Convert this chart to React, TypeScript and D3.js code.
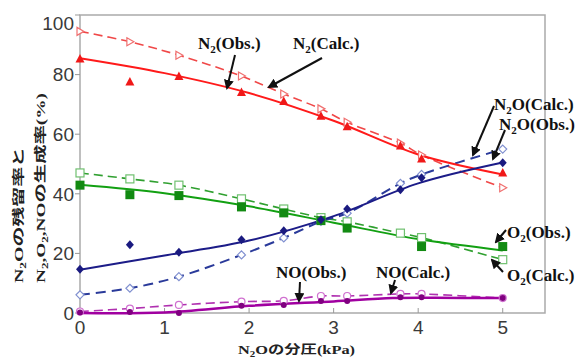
import React from "react";
import * as d3 from "d3";

const W = 582;
const H = 360;

// Sample N2O partial pressures (kPa)
const xPts = [0, 0.59, 1.17, 1.91, 2.41, 2.85, 3.16, 3.79, 4.04, 5.0];

// Observed / calculated values (%)
const n2Obs = [85.2, 77.5, 79.4, 74, 71, 66, 62.5, 56, 51.7, 47];
const n2Calc = [94.5, 91, 86.5, 79.5, 73.5, 68.5, 64, 57, 53, 42];
const o2Obs: (number | null)[] = [42.9, 39.7, 39.4, 35.6, 33.6, 31, 28.5, null, 22.3, 22.3];
const o2Calc = [47, 45, 42.9, 38.3, 34.9, 32, 30.6, 26.8, 25.3, 17.9];
const n2oObs = [14.7, 22.9, 20.4, 24.6, 27.6, 31.3, 34.9, 41.4, 45.4, 50.4];
const n2oCalc = [6.1, 8.3, 12.2, 19.5, 25.2, 30.7, 33.5, 43.5, 46.5, 55];
const noObs = [0.2, 0.3, 0, 2.4, 2.7, 4, 4, 5.3, 5.3, 5];
const noCalc = [0.5, 1.5, 2.7, 3.8, 4.1, 5.7, 5.7, 6.4, 6.4, 5];

// Fitted (solid) curves for observations
const fitX = [0, 1, 2, 3, 4, 5];
const n2Fit = [85.5, 80.5, 73.8, 64.5, 53.2, 46.5];
const o2Fit = [43, 40.2, 35.8, 30.3, 24.8, 21];
const n2oFit = [14.5, 19.3, 24.3, 32.5, 43.5, 50.5];
const noFitX = [0, 1, 2, 3, 3.7, 4.2, 5];
const noFit = [0, 0.2, 2.4, 3.9, 5.0, 5.1, 5];

const xTicks = [0, 1, 2, 3, 4, 5];
const yTicks = [0, 20, 40, 60, 80, 100];

const x = d3.scaleLinear().domain([0, 5.5]).range([80, 545]);
const y = d3.scaleLinear().domain([0, 100]).range([313, 15]);

const solid = (xs: number[], ys: number[]) =>
  d3
    .line<number>()
    .x((_, i) => x(xs[i]))
    .y((v) => y(v))
    .curve(d3.curveCatmullRom.alpha(0.5))(ys) || "";

const dashed = (ys: (number | null)[]) => {
  const pts = xPts.map((xv, i) => [xv, ys[i]] as [number, number | null]).filter((p) => p[1] !== null) as [number, number][];
  return (
    d3
      .line<[number, number]>()
      .x((p) => x(p[0]))
      .y((p) => y(p[1]))
      .curve(d3.curveCatmullRom.alpha(0.5))(pts) || ""
  );
};

const serif = "'Liberation Serif', 'DejaVu Serif', serif";
const sans = "'Liberation Sans', Arial, sans-serif";
const cjk = "'Liberation Serif', 'Noto Sans CJK JP', serif";

function Sub({ t }: { t: string }) {
  return (
    <tspan fontSize="11" dy="4">
      {t}
    </tspan>
  );
}

function Label({ x0, y0, a, s, b }: { x0: number; y0: number; a: string; s: string; b: string }) {
  return (
    <text x={x0} y={y0} fontFamily={serif} fontWeight="bold" fontSize="17" fill="#111">
      {a}
      <Sub t={s} />
      <tspan dy="-4">{b}</tspan>
    </text>
  );
}

function Arrow({ x1, y1, x2, y2 }: { x1: number; y1: number; x2: number; y2: number }) {
  return <line x1={x1} y1={y1} x2={x2} y2={y2} stroke="#111" strokeWidth={2} markerEnd="url(#ah)" />;
}

export default function App() {
  const idx = xPts.map((_, i) => i);
  return (
    <svg width={W} height={H} style={{ position: "absolute", left: 0, top: 0, background: "#fff" }}>
      <defs>
        <marker id="ah" viewBox="0 0 10 10" refX="8" refY="5" markerWidth="5" markerHeight="5" orient="auto">
          <path d="M0,0 L10,5 L0,10 z" fill="#111" />
        </marker>
      </defs>
      <rect x={0} y={0} width={W} height={H} fill="#fff" />
      {/* frame */}
      <rect x={x(0)} y={y(100)} width={x(5.5) - x(0)} height={y(0) - y(100)} fill="none" stroke="#aaa" strokeWidth={1.5} />
      {/* y ticks */}
      {yTicks.map((t) => (
        <g key={"y" + t}>
          <line x1={x(0) - 5} x2={x(0)} y1={y(t)} y2={y(t)} stroke="#999" strokeWidth={1} />
          <text x={74} y={Math.max(y(t), 23)} dy="0.36em" textAnchor="end" fontFamily={sans} fontSize="19" fill="#3a3a3a">
            {t}
          </text>
        </g>
      ))}
      {/* x ticks */}
      {xTicks.map((t) => (
        <g key={"x" + t}>
          <line x1={x(t)} x2={x(t)} y1={y(0)} y2={y(0) - 5} stroke="#999" strokeWidth={1} />
          <text x={x(t)} y={334} textAnchor="middle" fontFamily={sans} fontSize="19" fill="#3a3a3a">
            {t}
          </text>
        </g>
      ))}
      {/* axis titles */}
      <text x={238} y={354} fontFamily={cjk} fontWeight="bold" fontSize="12" fill="#222" textLength={117} lengthAdjust="spacingAndGlyphs">
        N<tspan fontSize="8" dy="3">2</tspan>
        <tspan dy="-3">Oの分圧(kPa)</tspan>
      </text>
      <text transform="translate(23,283) rotate(-90)" fontFamily={cjk} fontWeight="bold" fontSize="12" fill="#222" textLength={136} lengthAdjust="spacingAndGlyphs">
        N<tspan fontSize="8" dy="3">2</tspan>
        <tspan dy="-3">Oの残留率と</tspan>
      </text>
      <text transform="translate(45,283) rotate(-90)" fontFamily={cjk} fontWeight="bold" fontSize="12" fill="#222" textLength={190} lengthAdjust="spacingAndGlyphs">
        N<tspan fontSize="8" dy="3">2</tspan>
        <tspan dy="-3">,O</tspan>
        <tspan fontSize="8" dy="3">2</tspan>
        <tspan dy="-3">,NOの生成率(%)</tspan>
      </text>

      {/* calc dashed lines */}
      <path d={dashed(n2Calc)} fill="none" stroke="#f04848" strokeWidth={1.6} strokeDasharray="9 5" />
      <path d={dashed(o2Calc)} fill="none" stroke="#30a030" strokeWidth={1.6} strokeDasharray="9 5" />
      <path d={dashed(n2oCalc)} fill="none" stroke="#2a3a9a" strokeWidth={2} strokeDasharray="10 6" />
      <path d={dashed(noCalc)} fill="none" stroke="#b030b0" strokeWidth={1.6} strokeDasharray="9 5" />
      {/* fitted solid lines */}
      <path d={solid(fitX, n2Fit)} fill="none" stroke="#ff1a1a" strokeWidth={2} />
      <path d={solid(fitX, o2Fit)} fill="none" stroke="#12a012" strokeWidth={2} />
      <path d={solid(fitX, n2oFit)} fill="none" stroke="#1c1c88" strokeWidth={2} />
      <path d={solid(noFitX, noFit)} fill="none" stroke="#a000a0" strokeWidth={2.5} />

      {/* calc markers (open) */}
      {idx.map((i) => {
        const cx = x(xPts[i]);
        const cy = y(n2Calc[i]);
        return <path key={"n2c" + i} d={`M${cx - 3},${cy - 4} L${cx + 4},${cy} L${cx - 3},${cy + 4} Z`} fill="#fff" stroke="#f07070" strokeWidth={1.2} />;
      })}
      {idx.map((i) => (
        <rect key={"o2c" + i} x={x(xPts[i]) - 4} y={y(o2Calc[i]) - 4} width={8} height={8} fill="#fff" stroke="#70c070" strokeWidth={1.2} />
      ))}
      {idx.map((i) => {
        const cx = x(xPts[i]);
        const cy = y(n2oCalc[i]);
        return <path key={"n2oc" + i} d={`M${cx},${cy - 4} L${cx + 4},${cy} L${cx},${cy + 4} L${cx - 4},${cy} Z`} fill="#fff" stroke="#8090d0" strokeWidth={1.2} />;
      })}
      {idx.map((i) => (
        <circle key={"noc" + i} cx={x(xPts[i])} cy={y(noCalc[i])} r={3.5} fill="#fff" stroke="#d070d0" strokeWidth={1.2} />
      ))}

      {/* obs markers (filled) */}
      {idx.map((i) => {
        const cx = x(xPts[i]);
        const cy = y(n2Obs[i]);
        return <path key={"n2o" + i} d={`M${cx},${cy - 5} L${cx + 4.5},${cy + 3.5} L${cx - 4.5},${cy + 3.5} Z`} fill="#f01818" />;
      })}
      {idx.map((i) =>
        o2Obs[i] === null ? null : (
          <rect key={"o2o" + i} x={x(xPts[i]) - 4.5} y={y(o2Obs[i] as number) - 4.5} width={9} height={9} fill="#128a12" />
        )
      )}
      {idx.map((i) => {
        const cx = x(xPts[i]);
        const cy = y(n2oObs[i]);
        return <path key={"n2oo" + i} d={`M${cx},${cy - 4.5} L${cx + 4},${cy} L${cx},${cy + 4.5} L${cx - 4},${cy} Z`} fill="#1a1a80" />;
      })}
      {idx.map((i) => (
        <circle key={"noo" + i} cx={x(xPts[i])} cy={y(noObs[i])} r={3} fill="#800080" />
      ))}

      {/* annotations */}
      <Label x0={198} y0={49} a="N" s="2" b="(Obs.)" />
      <Arrow x1={235} y1={55} x2={227} y2={88} />
      <Label x0={293} y0={49} a="N" s="2" b="(Calc.)" />
      <Arrow x1={322} y1={58} x2={269} y2={87} />

      <Label x0={494} y0={110} a="N" s="2" b="O(Calc.)" />
      <Arrow x1={494} y1={106} x2={473} y2={155} />
      <Label x0={499} y0={130} a="N" s="2" b="O(Obs.)" />
      <Arrow x1={505} y1={130} x2={493} y2={159} />

      <Label x0={507} y0={238} a="O" s="2" b="(Obs.)" />
      <Arrow x1={506} y1={230} x2={496} y2={242} />
      <Label x0={507} y0={281} a="O" s="2" b="(Calc.)" />
      <Arrow x1={503} y1={272} x2={492} y2={260} />

      <text x={276} y={278} fontFamily={serif} fontWeight="bold" fontSize="17" fill="#111">
        NO(Obs.)
      </text>
      <Arrow x1={300} y1={282} x2={299} y2={301} />
      <text x={376} y={278} fontFamily={serif} fontWeight="bold" fontSize="17" fill="#111">
        NO(Calc.)
      </text>
      <Arrow x1={395} y1={280} x2={391} y2={293} />
    </svg>
  );
}
